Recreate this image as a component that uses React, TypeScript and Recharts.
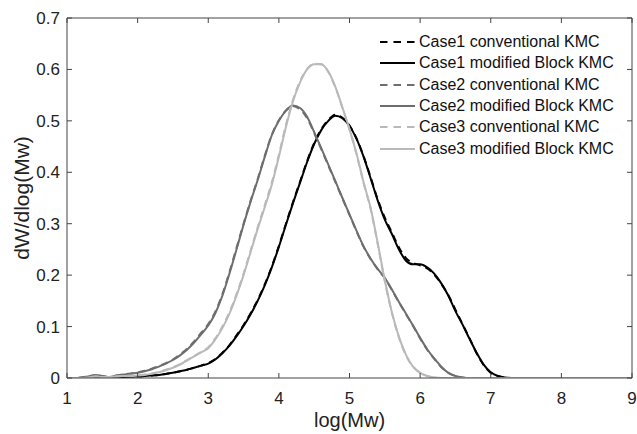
import React from 'react';
import { LineChart, Line, XAxis, YAxis, Legend, Label } from 'recharts';

const xs = [1, 1.1, 1.2, 1.3, 1.4, 1.5, 1.6, 1.7, 1.8, 1.9, 2, 2.1, 2.2, 2.3, 2.4, 2.5, 2.6, 2.7, 2.8, 2.9, 3, 3.1, 3.2, 3.3, 3.4, 3.5, 3.6, 3.7, 3.8, 3.9, 4, 4.1, 4.2, 4.3, 4.4, 4.5, 4.6, 4.7, 4.8, 4.9, 5, 5.1, 5.2, 5.3, 5.4, 5.5, 5.6, 5.7, 5.8, 5.9, 6, 6.1, 6.2, 6.3, 6.4, 6.5, 6.6, 6.7, 6.8, 6.9, 7, 7.1, 7.2, 7.3, 7.4, 7.5, 8, 9];

const case1Conv = [0, 0, 0, 0, 0.001, 0.001, 0.001, 0.002, 0.002, 0.003,
  0.003, 0.004, 0.005, 0.006, 0.008, 0.010, 0.013, 0.016, 0.020, 0.024,
  0.029, 0.037, 0.049, 0.064, 0.083, 0.103, 0.126, 0.152, 0.182, 0.217,
  0.257, 0.300, 0.342, 0.382, 0.422, 0.457, 0.484, 0.502, 0.512, 0.506,
  0.491, 0.466, 0.431, 0.390, 0.347, 0.312, 0.283, 0.254, 0.233, 0.224,
  0.219, 0.213, 0.201, 0.183, 0.161, 0.133, 0.105, 0.077, 0.048, 0.025,
  0.010, 0.004, 0.001, 0, 0, 0, 0, 0];
const case1Mod = [0, 0, 0, 0, 0.001, 0.001, 0.001, 0.002, 0.002, 0.003,
  0.003, 0.004, 0.005, 0.006, 0.008, 0.010, 0.013, 0.016, 0.020, 0.024,
  0.028, 0.036, 0.048, 0.063, 0.081, 0.101, 0.124, 0.150, 0.180, 0.215,
  0.255, 0.298, 0.340, 0.380, 0.420, 0.455, 0.482, 0.500, 0.510, 0.505,
  0.490, 0.465, 0.430, 0.388, 0.345, 0.308, 0.280, 0.250, 0.228, 0.221,
  0.221, 0.215, 0.203, 0.184, 0.160, 0.130, 0.104, 0.076, 0.049, 0.026,
  0.011, 0.004, 0.001, 0, 0, 0, 0, 0];
const case2Conv = [0, 0, 0.001, 0.003, 0.005, 0.004, 0.002, 0.005, 0.007, 0.009,
  0.011, 0.014, 0.018, 0.023, 0.029, 0.036, 0.046, 0.057, 0.071, 0.088,
  0.105, 0.129, 0.163, 0.206, 0.253, 0.300, 0.345, 0.387, 0.432, 0.473,
  0.501, 0.520, 0.529, 0.522, 0.505, 0.476, 0.445, 0.413, 0.381, 0.349,
  0.317, 0.285, 0.255, 0.231, 0.211, 0.194, 0.171, 0.147, 0.124, 0.101,
  0.077, 0.055, 0.037, 0.021, 0.010, 0.004, 0.001, 0, 0, 0,
  0, 0, 0, 0, 0, 0, 0, 0];
const case2Mod = [0, 0, 0.001, 0.003, 0.006, 0.004, 0.002, 0.005, 0.007, 0.008,
  0.010, 0.013, 0.017, 0.022, 0.028, 0.035, 0.044, 0.055, 0.069, 0.085,
  0.102, 0.126, 0.160, 0.203, 0.250, 0.298, 0.343, 0.385, 0.430, 0.472,
  0.500, 0.520, 0.530, 0.525, 0.508, 0.478, 0.447, 0.415, 0.383, 0.350,
  0.318, 0.286, 0.256, 0.232, 0.212, 0.195, 0.172, 0.148, 0.125, 0.102,
  0.078, 0.056, 0.038, 0.022, 0.010, 0.004, 0.001, 0, 0, 0,
  0, 0, 0, 0, 0, 0, 0, 0];
const case3Conv = [0, 0, 0, 0.001, 0.003, 0.002, 0.002, 0.003, 0.004, 0.005,
  0.005, 0.007, 0.009, 0.012, 0.016, 0.021, 0.027, 0.035, 0.043, 0.051,
  0.060, 0.077, 0.100, 0.128, 0.163, 0.203, 0.248, 0.293, 0.336, 0.380,
  0.434, 0.492, 0.541, 0.577, 0.601, 0.611, 0.610, 0.595, 0.565, 0.525,
  0.483, 0.435, 0.379, 0.328, 0.260, 0.188, 0.127, 0.079, 0.044, 0.022,
  0.010, 0.004, 0.001, 0, 0, 0, 0, 0, 0, 0,
  0, 0, 0, 0, 0, 0, 0, 0];
const case3Mod = [0, 0, 0, 0.001, 0.003, 0.002, 0.002, 0.003, 0.004, 0.004,
  0.005, 0.006, 0.008, 0.011, 0.015, 0.020, 0.026, 0.034, 0.042, 0.050,
  0.058, 0.075, 0.097, 0.125, 0.160, 0.200, 0.245, 0.290, 0.332, 0.376,
  0.430, 0.488, 0.538, 0.575, 0.600, 0.610, 0.610, 0.596, 0.566, 0.526,
  0.484, 0.436, 0.380, 0.330, 0.262, 0.190, 0.128, 0.080, 0.045, 0.022,
  0.010, 0.004, 0.001, 0, 0, 0, 0, 0, 0, 0,
  0, 0, 0, 0, 0, 0, 0, 0];

const xTicks = [1, 2, 3, 4, 5, 6, 7, 8, 9];
const yTicks = [0, 0.1, 0.2, 0.3, 0.4, 0.5, 0.6, 0.7];
const seriesNames = [
  'Case1 conventional KMC',
  'Case1 modified Block KMC',
  'Case2 conventional KMC',
  'Case2 modified Block KMC',
  'Case3 conventional KMC',
  'Case3 modified Block KMC',
];
const seriesKeys = ['c1conv', 'c1mod', 'c2conv', 'c2mod', 'c3conv', 'c3mod'];
const seriesValues = [case1Conv, case1Mod, case2Conv, case2Mod, case3Conv, case3Mod];
const seriesColors = ['#000000', '#000000', '#6e6e6e', '#6e6e6e', '#b9b9b9', '#b9b9b9'];
const seriesDashed = [true, false, true, false, true, false];

const data = xs.map((x, i) => {
  const row: Record<string, number> = { x };
  seriesKeys.forEach((k, j) => {
    row[k] = seriesValues[j][i];
  });
  return row;
});

const FONT = '"Liberation Sans", Arial, Helvetica, sans-serif';

const LegendContent = () => (
  <div style={{ fontFamily: FONT, fontSize: 16, color: '#111' }}>
    {seriesNames.map((name, i) => (
      <div key={name} style={{ display: 'flex', alignItems: 'center', height: 21.45, whiteSpace: 'nowrap' }}>
        <svg width={36} height={10} style={{ marginRight: 3 }}>
          <line
            x1={0}
            y1={5}
            x2={35}
            y2={5}
            stroke={seriesColors[i]}
            strokeWidth={2}
            strokeDasharray={seriesDashed[i] ? '7.5 6' : undefined}
          />
        </svg>
        <span>{name}</span>
      </div>
    ))}
  </div>
);

export default function App() {
  const tickStyle = { fontSize: 17, fill: '#222', fontFamily: FONT };
  return (
    <div style={{ position: 'absolute', left: 0, top: 0, width: 637, height: 434, background: '#fff' }}>
      <LineChart
        width={637}
        height={434}
        data={data}
        margin={{ top: 17, right: 4, bottom: 11, left: 0 }}
      >
        <XAxis
          xAxisId="top"
          orientation="top"
          dataKey="x"
          type="number"
          domain={[1, 9]}
          allowDataOverflow
          ticks={xTicks}
          height={1}
          tickSize={-5}
          tickFormatter={() => ''}
          stroke="#444"
        />
        <YAxis
          yAxisId="right"
          orientation="right"
          type="number"
          domain={[0, 0.7]}
          allowDataOverflow
          ticks={yTicks}
          width={1}
          tickSize={-5}
          tickFormatter={() => ''}
          stroke="#444"
        />
        <XAxis
          dataKey="x"
          type="number"
          domain={[1, 9]}
          allowDataOverflow
          ticks={xTicks}
          height={45}
          tickSize={-5}
          tickMargin={19}
          tick={tickStyle}
          stroke="#444"
        >
          <Label
            value="log(Mw)"
            position="insideBottom"
            offset={-4}
            style={{ fontSize: 20, fill: '#222', fontFamily: FONT }}
          />
        </XAxis>
        <YAxis
          type="number"
          domain={[0, 0.7]}
          allowDataOverflow
          ticks={yTicks}
          width={67}
          tickSize={-5}
          tickMargin={12}
          tick={tickStyle}
          stroke="#444"
        >
          <Label
            value="dW/dlog(Mw)"
            angle={-90}
            position="insideLeft"
            offset={22}
            style={{ fontSize: 21, fill: '#222', fontFamily: FONT, textAnchor: 'middle' }}
          />
        </YAxis>
        {seriesKeys.map((k, i) => (
          <Line
            key={k}
            dataKey={k}
            name={seriesNames[i]}
            type="monotone"
            stroke={seriesColors[i]}
            strokeWidth={2}
            strokeDasharray={seriesDashed[i] ? '7 5' : undefined}
            dot={false}
            activeDot={false}
            isAnimationActive={false}
          />
        ))}
        <Legend
          layout="vertical"
          align="center"
          verticalAlign="middle"
          content={<LegendContent />}
          wrapperStyle={{ position: 'absolute', left: 380, top: 31, width: 250, height: 130 }}
        />
      </LineChart>
    </div>
  );
}
